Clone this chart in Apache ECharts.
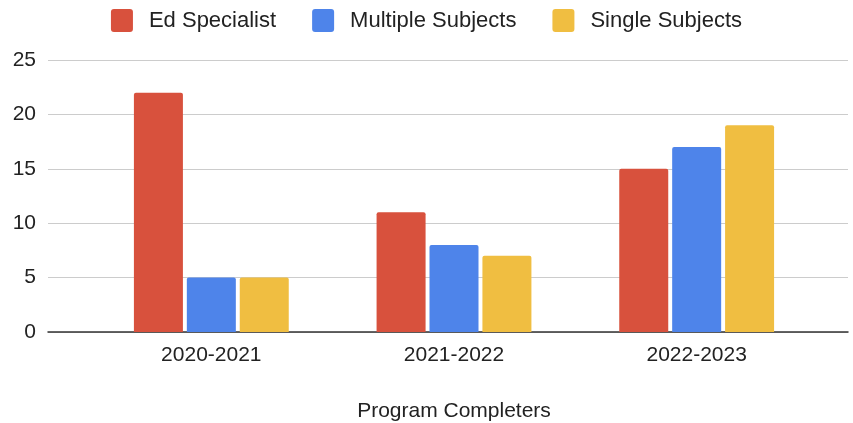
<!DOCTYPE html>
<html>
<head>
<meta charset="utf-8">
<script src="https://cdn.jsdelivr.net/npm/echarts@6/dist/echarts.min.js"></script>
<style>
  html, body { margin: 0; padding: 0; background: #fff; }
  #chart { width: 853px; height: 423px; }
</style>
</head>
<body>
<div id="chart"></div>
<script>
// Program completers per academic year, by credential type
const years = ['2020-2021', '2021-2022', '2022-2023'];
const edSpecialist = [22, 11, 15];
const multipleSubjects = [5, 8, 17];
const singleSubjects = [5, 7, 19];
const yTicks = { min: 0, max: 25, interval: 5 };

const FONT = 'Liberation Sans, Arial, sans-serif';
const TEXT = '#222';
const SWATCH = 'path://M3,0 H19 Q22,0 22,3 V20 Q22,23 19,23 H3 Q0,23 0,20 V3 Q0,0 3,0 Z';

const chart = echarts.init(document.getElementById('chart'));

function barSeries(name, data, color) {
  return {
    name: name,
    type: 'bar',
    xAxisIndex: 1,
    yAxisIndex: 1,
    data: data,
    barWidth: 49,
    barGap: '8%',
    itemStyle: { color: color, borderRadius: [2, 2, 0, 0] },
    emphasis: { disabled: true }
  };
}

chart.setOption({
  animation: false,
  textStyle: { fontFamily: FONT },
  legend: {
    top: 4,
    left: 'center',
    itemWidth: 22,
    itemHeight: 23,
    itemGap: 36,
    icon: SWATCH,
    textStyle: { fontSize: 22, color: TEXT, fontFamily: FONT, padding: [0, 0, 0, 11] },
    data: ['Ed Specialist', 'Multiple Subjects', 'Single Subjects']
  },
  grid: [
    // wide grid: gridlines, value labels and baseline
    { left: 48, right: 5, top: 60, bottom: 91, containLabel: false, outerBoundsMode: 'none' },
    // inner grid: category bands holding the bars
    { left: 90, right: 35, top: 60, bottom: 91, containLabel: false, outerBoundsMode: 'none' }
  ],
  xAxis: [
    {
      gridIndex: 0,
      type: 'value',
      min: 0,
      max: 1,
      axisLine: { show: true, onZero: true, lineStyle: { color: '#333', width: 1.5 } },
      axisTick: { show: false },
      axisLabel: { show: false },
      splitLine: { show: false }
    },
    {
      gridIndex: 1,
      type: 'category',
      data: years,
      axisLine: { show: false },
      axisTick: { show: false },
      axisLabel: { fontSize: 21, color: TEXT, fontFamily: FONT, margin: 13 },
      name: 'Program Completers',
      nameLocation: 'middle',
      nameGap: 69,
      nameTextStyle: { fontSize: 21, color: TEXT, fontFamily: FONT }
    }
  ],
  yAxis: [
    {
      gridIndex: 0,
      type: 'value',
      min: yTicks.min,
      max: yTicks.max,
      interval: yTicks.interval,
      axisLine: { show: false },
      axisTick: { show: false },
      axisLabel: { fontSize: 21, color: TEXT, fontFamily: FONT, margin: 12 },
      splitLine: { lineStyle: { color: '#cccccc', width: 1 } }
    },
    {
      gridIndex: 1,
      type: 'value',
      min: yTicks.min,
      max: yTicks.max,
      interval: yTicks.interval,
      axisLine: { show: false },
      axisTick: { show: false },
      axisLabel: { show: false },
      splitLine: { show: false }
    }
  ],
  series: [
    barSeries('Ed Specialist', edSpecialist, '#d8513d'),
    barSeries('Multiple Subjects', multipleSubjects, '#4e84ea'),
    barSeries('Single Subjects', singleSubjects, '#f0be41')
  ]
});
</script>
</body>
</html>
